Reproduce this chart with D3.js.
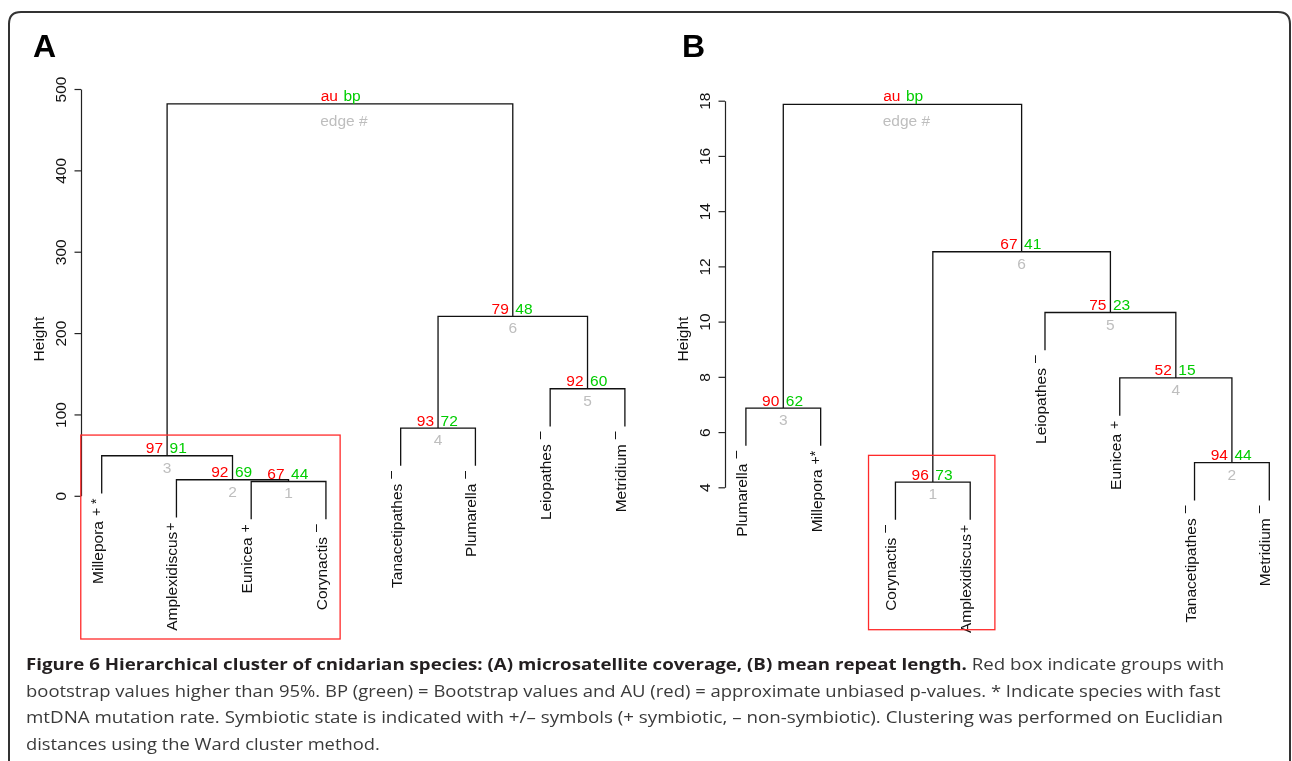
<!DOCTYPE html>
<html>
<head>
<meta charset="utf-8">
<script src="https://cdn.jsdelivr.net/npm/d3@7"></script>
<style>
  body { margin: 0; background: #fff; }
  svg { display: block; will-change: transform; }
</style>
</head>
<body>
<script>
// A: microsatellite coverage (leaves in plotted order, merges as in R's hclust)
const leavesA = ["Millepora", "Amplexidiscus", "Eunicea", "Corynactis", "Tanacetipathes", "Plumarella", "Leiopathes", "Metridium"];
const marksA = ["+ *", "+", "+", "–", "–", "–", "–", "–"];
const mergeA = [[-3, -4], [-2, 1], [-1, 2], [-5, -6], [-7, -8], [4, 5], [3, 6]];
const heightA = [17.6, 19.7, 49.2, 83.2, 131.6, 220.5, 481.6];
const auA = [67, 92, 97, 93, 92, 79];
const bpA = [44, 69, 91, 72, 60, 48];
const ticksA = [0, 100, 200, 300, 400, 500];
const boxA = [1, 4, 3];   // first leaf, last leaf, edge

// B: mean repeat length
const leavesB = ["Plumarella", "Millepora", "Corynactis", "Amplexidiscus", "Leiopathes", "Eunicea", "Tanacetipathes", "Metridium"];
const marksB = ["–", "+*", "–", "+", "–", "+", "–", "–"];
const mergeB = [[-3, -4], [-7, -8], [-1, -2], [-6, 2], [-5, 4], [1, 5], [3, 6]];
const heightB = [4.19, 4.89, 6.87, 7.96, 10.33, 12.53, 17.87];
const auB = [96, 94, 90, 52, 75, 67];
const bpB = [73, 44, 62, 15, 23, 41];
const ticksB = [4, 6, 8, 10, 12, 14, 16, 18];
const boxB = [3, 4, 1];

const captionLines = [
    [["Figure 6 Hierarchical cluster of cnidarian species: (A) microsatellite coverage, (B) mean repeat length.", true],
     [" Red box indicate groups with", false]],
    [["bootstrap values higher than 95%. BP (green) = Bootstrap values and AU (red) = approximate unbiased p-values. * Indicate species with fast", false]],
    [["mtDNA mutation rate. Symbiotic state is indicated with +/– symbols (+ symbiotic, – non-symbiotic). Clustering was performed on Euclidian", false]],
    [["distances using the Ward cluster method.", false]]
];

const font = "'Liberation Sans', Arial, Helvetica, sans-serif";
const col = {au: "#ff0000", bp: "#00cd00", edge: "#bebebe"};

const svg = d3.select("body").append("svg")
    .attr("width", 1292)
    .attr("height", 761);

// rounded frame round the figure
svg.append("path")
    .attr("d", "M9,780 V24 Q9,12 21,12 H1278 Q1290,12 1290,24 V780")
    .attr("fill", "none")
    .attr("stroke", "#333")
    .attr("stroke-width", 2);

drawPanel({
    letter: "A", letterX: 33,
    leaves: leavesA, marks: marksA, merge: mergeA, height: heightA, au: auA, bp: bpA,
    ticks: ticksA, box: boxA,
    xRange: [101.7, 624.9], yRange: [495.8, 89], axisX: 81,
    boxPad: [0.28, 0.19, 20.7], boxBottom: 639
});

drawPanel({
    letter: "B", letterX: 682,
    leaves: leavesB, marks: marksB, merge: mergeB, height: heightB, au: auB, bp: bpB,
    ticks: ticksB, box: boxB,
    xRange: [745.9, 1269.3], yRange: [487.3, 100.7], axisX: 725,
    boxPad: [0.36, 0.33, 26.7], boxBottom: 629.7
});

drawCaption();

function drawPanel(p) {
    const g = svg.append("g").attr("font-family", font).attr("font-size", 15.5);

    const x = d3.scaleLinear().domain([1, p.leaves.length]).range(p.xRange);
    const y = d3.scaleLinear().domain(d3.extent(p.ticks)).range(p.yRange);
    const hang = 0.1 * (d3.max(p.height) - d3.min(p.height));

    g.append("text")
        .attr("x", p.letterX)
        .attr("y", 57)
        .attr("font-size", 32)
        .attr("font-weight", "bold")
        .text(p.letter);

    // y axis, labels parallel to the axis like R
    const axis = g.append("g")
        .attr("transform", `translate(${p.axisX},0)`)
        .call(d3.axisLeft(y).tickValues(p.ticks).tickSize(6.5).tickSizeOuter(0).tickFormat(d3.format("d")));
    axis.attr("font-family", null).attr("font-size", null);
    axis.select(".domain").attr("stroke", "#222").attr("stroke-width", 1.2);
    axis.selectAll(".tick line").attr("stroke", "#222").attr("stroke-width", 1.2);
    axis.selectAll(".tick text")
        .attr("transform", "rotate(-90)")
        .attr("x", 0)
        .attr("y", -15)
        .attr("dy", 0)
        .attr("text-anchor", "middle")
        .attr("fill", "#111");

    g.append("text")
        .attr("transform", `translate(${p.axisX - 37},339) rotate(-90)`)
        .attr("text-anchor", "middle")
        .attr("fill", "#111")
        .text("Height");

    // walk the merges, leaves hang below their merge by `hang`
    const nodes = [];
    const leafEnd = [];
    const lines = g.append("g")
        .attr("fill", "none")
        .attr("stroke", "#111")
        .attr("stroke-width", 1.3);

    p.merge.forEach(([a, b], i) => {
        const h = p.height[i];
        const kid = j => {
            if (j < 0) {
                leafEnd[-j - 1] = h - hang;
                return {pos: -j, h: h - hang};
            }
            return nodes[j - 1];
        };
        const ca = kid(a), cb = kid(b);
        nodes.push({pos: (ca.pos + cb.pos) / 2, h: h});

        const path = d3.path();
        path.moveTo(x(ca.pos), y(ca.h));
        path.lineTo(x(ca.pos), y(h));
        path.lineTo(x(cb.pos), y(h));
        path.lineTo(x(cb.pos), y(cb.h));
        lines.append("path").attr("d", path.toString());
    });

    // leaf labels with the symbiosis / mtDNA marks
    p.leaves.forEach((name, i) => {
        const t = g.append("text")
            .attr("transform", `translate(${x(i + 1) + 1},${y(leafEnd[i]) + 5}) rotate(-90)`)
            .attr("text-anchor", "end")
            .attr("fill", "#111")
            .text(name);
        const mark = p.marks[i];
        t.append("tspan")
            .attr("dx", name === "Amplexidiscus" ? 1 : 5)
            .attr("dy", mark === "–" ? -7 : -2)
            .attr("font-size", 14)
            .attr("fill", "#111")
            .text(mark);
    });

    // au / bp / edge numbers
    nodes.forEach((d, i) => {
        const nx = x(d.pos), ny = y(d.h);
        const root = i === nodes.length - 1;
        g.append("text")
            .attr("x", nx - (root ? 2 : 4))
            .attr("y", ny - (root ? 3 : 2.5))
            .attr("text-anchor", "end")
            .attr("fill", col.au)
            .text(root ? "au" : p.au[i]);
        g.append("text")
            .attr("x", nx + (root ? 3.5 : 2.5))
            .attr("y", ny - (root ? 3 : 2.5))
            .attr("fill", col.bp)
            .text(root ? "bp" : p.bp[i]);
        g.append("text")
            .attr("x", nx + (root ? 4 : 0))
            .attr("y", ny + (root ? 22 : 17))
            .attr("text-anchor", "middle")
            .attr("fill", col.edge)
            .text(root ? "edge #" : i + 1);
    });

    // red box round the significant cluster
    const [lo, hi, edge] = p.box;
    const x0 = x(lo - p.boxPad[0]), x1 = x(hi + p.boxPad[1]);
    const y0 = y(p.height[edge - 1]) - p.boxPad[2];
    g.append("rect")
        .attr("x", x0)
        .attr("y", y0)
        .attr("width", x1 - x0)
        .attr("height", p.boxBottom - y0)
        .attr("fill", "none")
        .attr("stroke", "#ff2a2a")
        .attr("stroke-width", 1.3);
}

function drawCaption() {
    const ends = [1225, 1221, 1224, 380];
    const g = svg.append("g")
        .attr("font-family", "'Open Sans', 'Noto Sans', sans-serif")
        .attr("font-size", 16.5);

    captionLines.forEach((parts, i) => {
        const t = g.append("text").attr("x", 0).attr("y", 0);
        parts.forEach(([txt, bold]) => {
            t.append("tspan")
                .attr("font-weight", bold ? "bold" : "normal")
                .attr("fill", bold ? "#231f20" : "#3a3a3a")
                .text(txt);
        });
        const w = t.node().getComputedTextLength();
        const s = (ends[i] - 26) / w;
        t.attr("transform", `translate(26,${670 + i * 26.7}) scale(${s},1)`);
    });
}
</script>
</body>
</html>
